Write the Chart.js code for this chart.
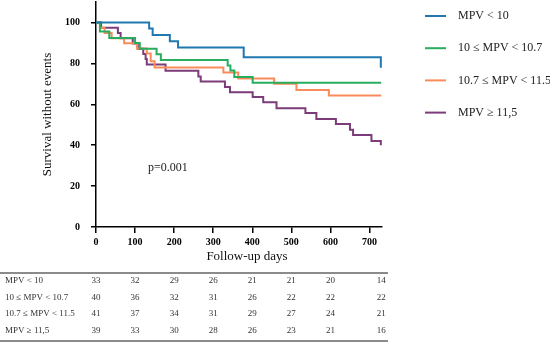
<!DOCTYPE html>
<html>
<head>
<meta charset="utf-8">
<script src="https://cdn.jsdelivr.net/npm/chart.js@4.4.1/dist/chart.umd.min.js"></script>
<style>
  html, body { margin: 0; padding: 0; background: #fff; }
</style>
</head>
<body>
<canvas id="myChart" width="550" height="343"></canvas>
<script>
// group labels and colours
const groupLabels = ['MPV < 10', '10 \u2264 MPV < 10.7', '10.7 \u2264 MPV < 11.5', 'MPV \u2265 11,5']
const groupColors = ['#1f78b0', '#28ad5f', '#f98c5a', '#7b3c79']

// Kaplan-Meier steps (day, % survival)
const blueDays = [0, 136, 145, 189, 210, 378, 729]
const blueSurv = [100, 97, 93.9, 90.8, 87.7, 83, 77.8]

const greenDays = [0, 10, 34, 100, 112, 155, 166, 337, 344, 354, 401, 730]
const greenSurv = [100, 95.6, 92.4, 89.9, 87.1, 84.5, 81.7, 79, 76.5, 73.3, 70.5, 70.5]

const orangeDays = [0, 10, 22, 40, 72, 105, 130, 140, 150, 326, 364, 456, 513, 596, 730]
const orangeSurv = [100, 97.4, 94.9, 92.3, 89.8, 87.3, 84.8, 81, 78, 75.5, 72.6, 70, 67, 64.3, 64.3]

const purpleDays = [0, 13, 56, 63, 94, 107, 121, 127, 130, 178, 262, 268, 330, 343, 401, 428, 462, 536, 564, 614, 650, 658, 705, 729]
const purpleSurv = [100, 97.4, 94.9, 92.3, 89.7, 87.2, 84.6, 82.1, 79.5, 76.4, 73.6, 71.1, 68.4, 65.9, 63.5, 61, 58.1, 55.7, 52.8, 50.3, 47.5, 45, 42.1, 40]

// axis ticks
const xTicks = [0, 100, 200, 300, 400, 500, 600, 700]
const yTicks = [0, 20, 40, 60, 80, 100]
const xTitle = 'Follow-up days'

// number at risk table
const riskDays = [0, 100, 200, 300, 400, 500, 600, 730]
const riskBlue = [33, 32, 29, 26, 21, 21, 20, 14]
const riskGreen = [40, 36, 32, 31, 26, 22, 22, 22]
const riskOrange = [41, 37, 34, 31, 29, 27, 24, 21]
const riskPurple = [39, 33, 30, 28, 26, 23, 21, 16]

const pText = 'p=0.001'
const pDay = 133, pSurv = 29

const serif = "'Liberation Serif', 'Times New Roman', serif"

let toPoints = (days, surv) => days.map((d, i) => ({ x: d, y: surv[i] }))

let seriesData = [
  toPoints(blueDays, blueSurv),
  toPoints(greenDays, greenSurv),
  toPoints(orangeDays, orangeSurv),
  toPoints(purpleDays, purpleSurv)
]
let riskRows = [riskBlue, riskGreen, riskOrange, riskPurple]

// no extra room for the outer tick labels
let noPad = s => { s.paddingTop = 0; s.paddingBottom = 0; s.paddingLeft = 0; s.paddingRight = 0 }

// legend, x title, p value and risk table drawn on the same canvas
const extrasPlugin = {
  id: 'extras',
  afterDraw(chart) {
    const ctx = chart.ctx
    const xs = chart.scales.x
    const ys = chart.scales.y
    const area = chart.chartArea
    ctx.save()

    // legend on the right
    const lx = area.right + 43
    ctx.font = '12px ' + serif
    ctx.textBaseline = 'middle'
    ctx.textAlign = 'left'
    groupLabels.forEach((lab, i) => {
      const y = 16 + i * 32.2
      ctx.strokeStyle = groupColors[i]
      ctx.lineWidth = 2
      ctx.beginPath()
      ctx.moveTo(lx, y)
      ctx.lineTo(lx + 21, y)
      ctx.stroke()
      ctx.fillStyle = '#222'
      ctx.fillText(lab, lx + 33, y)
    })

    // p value
    ctx.fillStyle = '#222'
    ctx.fillText(pText, xs.getPixelForValue(pDay), ys.getPixelForValue(pSurv))

    // x axis title, sits a bit right of centre in the original
    ctx.fillStyle = '#111'
    ctx.font = '13px ' + serif
    ctx.textAlign = 'center'
    ctx.fillText(xTitle, (area.left + area.right) / 2 + 8, area.bottom + 30)

    // number at risk table
    const top = 273, bottom = 341
    ctx.strokeStyle = '#666'
    ctx.lineWidth = 1.5
    ctx.beginPath()
    ctx.moveTo(0, top); ctx.lineTo(388, top)
    ctx.moveTo(0, bottom); ctx.lineTo(388, bottom)
    ctx.stroke()

    ctx.font = '9px ' + serif
    ctx.fillStyle = '#333'
    riskRows.forEach((row, i) => {
      const y = 281 + i * 16.4
      ctx.textAlign = 'left'
      ctx.fillText(groupLabels[i], 5, y)
      ctx.textAlign = 'center'
      row.forEach((n, j) => {
        ctx.fillText(String(n), xs.getPixelForValue(riskDays[j]), y)
      })
    })
    ctx.restore()
  }
}

var ctx = document.getElementById('myChart')
var myChart = new Chart(ctx, {
  type: 'line',
  data: {
    datasets: seriesData.map((pts, i) => ({
      label: groupLabels[i],
      data: pts,
      borderColor: groupColors[i],
      backgroundColor: groupColors[i],
      borderWidth: 2,
      pointRadius: 0,
      stepped: true,
      fill: false
    }))
  },
  options: {
    responsive: false,
    animation: false,
    layout: { padding: { left: 36, right: 168, top: 2, bottom: 74 } },
    plugins: {
      legend: { display: false },
      tooltip: { enabled: false }
    },
    scales: {
      x: {
        type: 'linear',
        min: 0,
        max: 732,
        afterBuildTicks: s => { s.ticks = xTicks.map(v => ({ value: v })) },
        afterFit: s => { s.height = 42; noPad(s) },
        ticks: { autoSkip: false, maxRotation: 0, padding: 3, color: '#000', font: { family: serif, size: 10, weight: 'bold' } },
        grid: { drawOnChartArea: false, tickLength: 6, color: '#000', lineWidth: 1.5 },
        border: { color: '#000', width: 1.5 },
        title: { display: false }
      },
      y: {
        min: 0,
        max: 110,
        afterBuildTicks: s => { s.ticks = yTicks.map(v => ({ value: v })) },
        afterFit: s => { s.width = 60; noPad(s) },
        ticks: { autoSkip: false, padding: 11, color: '#000', font: { family: serif, size: 10, weight: 'bold' } },
        grid: { drawOnChartArea: false, tickLength: 5, color: '#000', lineWidth: 1.5 },
        border: { color: '#000', width: 1.5 },
        title: { display: true, text: 'Survival without events', color: '#111', font: { family: serif, size: 13 } }
      }
    }
  },
  plugins: [extrasPlugin]
})
</script>
</body>
</html>
